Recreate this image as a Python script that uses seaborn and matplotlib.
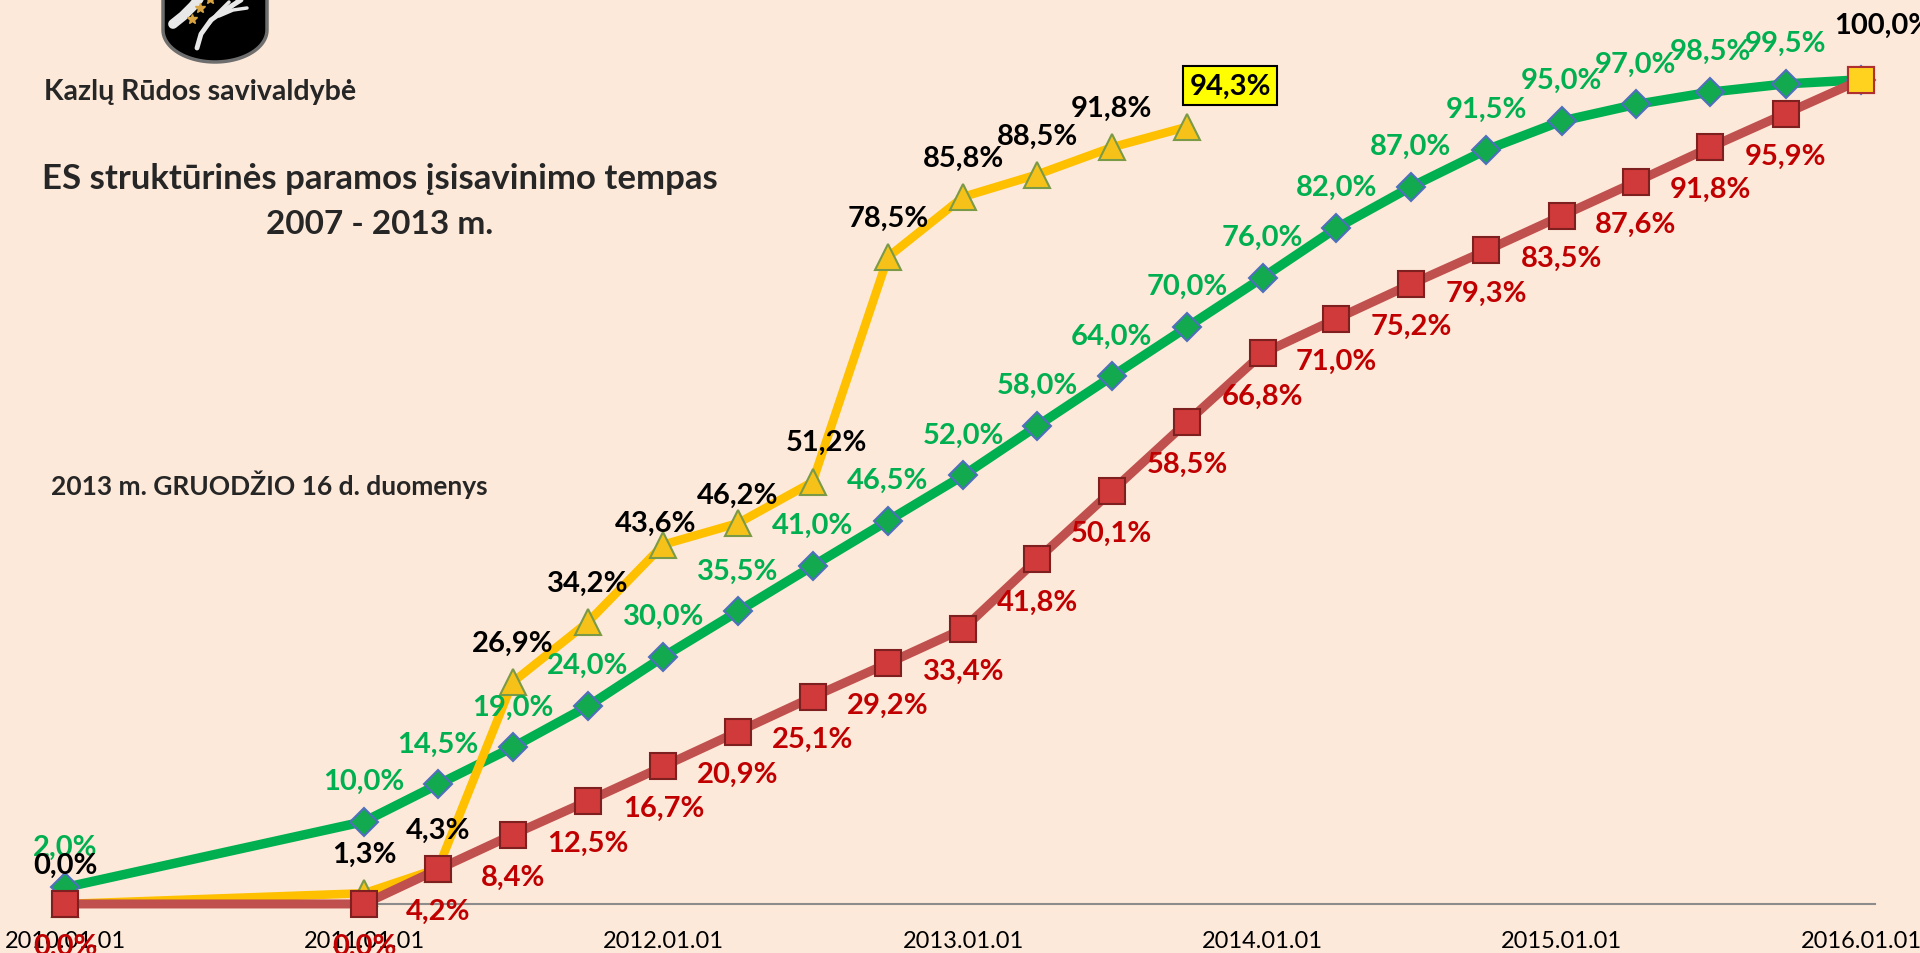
import pandas as pd
import numpy as np
import matplotlib
matplotlib.use("Agg")
import matplotlib.pyplot as plt
import matplotlib.dates as mdates
from matplotlib.patches import Polygon
import seaborn as sns

# --- data ---
dates_plan = ["2010.01.01", "2011.01.01", "2011.04.01", "2011.07.01", "2011.10.01",
              "2012.01.01", "2012.04.01", "2012.07.01", "2012.10.01",
              "2013.01.01", "2013.04.01", "2013.07.01", "2013.10.01",
              "2014.01.01", "2014.04.01", "2014.07.01", "2014.10.01",
              "2015.01.01", "2015.04.01", "2015.07.01", "2015.10.01", "2016.01.01"]
green_vals = [2.0, 10.0, 14.5, 19.0, 24.0, 30.0, 35.5, 41.0, 46.5, 52.0, 58.0,
              64.0, 70.0, 76.0, 82.0, 87.0, 91.5, 95.0, 97.0, 98.5, 99.5, 100.0]
red_vals = [0.0, 0.0, 4.2, 8.4, 12.5, 16.7, 20.9, 25.1, 29.2, 33.4, 41.8,
            50.1, 58.5, 66.8, 71.0, 75.2, 79.3, 83.5, 87.6, 91.8, 95.9, 100.0]
dates_actual = dates_plan[:13]
yellow_vals = [0.0, 1.3, 4.3, 26.9, 34.2, 43.6, 46.2, 51.2, 78.5, 85.8, 88.5, 91.8, 94.3]

BG = "#FDE9D9"
C_GREEN = "#00B050"
C_RED = "#C0504D"
C_YELLOW = "#FFC000"
T_GREEN = "#00B050"
T_RED = "#C00000"

sns.set_theme(style="white")
plt.rcParams['font.family'] = ['Lato', 'DejaVu Sans']

df_plan = pd.DataFrame({"date": pd.to_datetime(dates_plan, format="%Y.%m.%d"),
                        "green": green_vals, "red": red_vals})
df_act = pd.DataFrame({"date": pd.to_datetime(dates_actual, format="%Y.%m.%d"),
                       "yellow": yellow_vals})

fig = plt.figure(figsize=(19.2, 9.54), dpi=100, facecolor=BG)
ax = fig.add_axes([0, 0, 1, 1])
ax.set_facecolor(BG)

sns.lineplot(data=df_plan, x="date", y="green", ax=ax, color=C_GREEN, linewidth=6.8,
             marker="D", markersize=14, markerfacecolor="#13A94F",
             markeredgecolor="#4F6FBD", markeredgewidth=1.5, zorder=2)
sns.lineplot(data=df_act, x="date", y="yellow", ax=ax, color=C_YELLOW, linewidth=6.2,
             marker="^", markersize=19, markerfacecolor="#F6C21A",
             markeredgecolor="#7A9A48", markeredgewidth=1.5, zorder=3)
sns.lineplot(data=df_plan, x="date", y="red", ax=ax, color=C_RED, linewidth=6.5,
             marker="s", markersize=19, markerfacecolor="#D03A3A",
             markeredgecolor="#7F2020", markeredgewidth=1.5, zorder=4)
# final point highlighted in yellow
last = df_plan.iloc[-1]
ax.plot([last["date"]], [last["red"]], marker="s", markersize=19, color="none",
        markerfacecolor="#FFD21F", markeredgecolor="#B03030", markeredgewidth=1.5, zorder=5)

def fmt(v):
    return f"{v:.1f}".replace(".", ",") + "%"

LAB_FS = 21
lab_kw = dict(textcoords="offset pixels", ha="center", va="center", fontsize=LAB_FS,
              fontweight="bold", annotation_clip=False, zorder=10)

for d, v in zip(df_plan["date"][:-1], df_plan["green"][:-1]):
    ax.annotate(fmt(v), (d, v), xytext=(0, 41), color=T_GREEN, **lab_kw)
for d, v in zip(df_plan["date"][:-1], df_plan["red"][:-1]):
    ax.annotate(fmt(v), (d, v), xytext=(0, -42), color=T_RED, **lab_kw)

# a few yellow labels were nudged by hand in the original
nudge = {5: (-8, 22), 6: (0, 28), 7: (14, 40)}
for i, (d, v) in enumerate(zip(df_act["date"][:-1], df_act["yellow"][:-1])):
    ax.annotate(fmt(v), (d, v), xytext=nudge.get(i, (0, 39)), color="black", **lab_kw)

# highlighted latest actual value
d_last, v_last = df_act["date"].iloc[-1], df_act["yellow"].iloc[-1]
ax.annotate(fmt(v_last), (d_last, v_last), xytext=(43, 41), color="black",
            bbox=dict(boxstyle="square,pad=0.22", fc="#FFFF00", ec="black", lw=1.5),
            **lab_kw)
ax.annotate(fmt(last["red"]), (last["date"], last["red"]), xytext=(-27, 55),
            textcoords="offset pixels", ha="left", va="center", fontsize=LAB_FS,
            fontweight="bold", color="black", annotation_clip=False, zorder=10)

# axes
start = pd.Timestamp("2010-01-01")
end = pd.Timestamp("2016-01-01")
ax.set_xlim(start - pd.Timedelta(days=79.3), end + pd.Timedelta(days=72))
ax.set_ylim(-5.95, 109.8)
ax.xaxis.set_major_locator(mdates.YearLocator())
ax.xaxis.set_major_formatter(mdates.DateFormatter("%Y.%m.%d"))
ax.tick_params(axis="x", length=0, pad=19, labelsize=17, labelcolor="black")
ax.set_yticks([])
ax.set_xlabel("")
ax.set_ylabel("")
for s in ["top", "right", "left"]:
    ax.spines[s].set_visible(False)
ax.spines["bottom"].set_position(("data", 0))
ax.spines["bottom"].set_bounds(mdates.date2num(start),
                               mdates.date2num(end + pd.Timedelta(days=17)))
ax.spines["bottom"].set_color("#8C8C8C")
ax.spines["bottom"].set_linewidth(1.5)
ax.spines["bottom"].set_zorder(1)

# texts
fig.text(200 / 1920, 1 - 92 / 954, "Kazlų Rūdos savivaldybė", ha="center", va="center",
         fontsize=20.5, fontweight="bold")
fig.text(380 / 1920, 1 - 179 / 954, "ES struktūrinės paramos įsisavinimo tempas",
         ha="center", va="center", fontsize=25, fontweight="bold")
fig.text(380 / 1920, 1 - 224 / 954, "2007 - 2013 m.", ha="center", va="center",
         fontsize=24, fontweight="bold")
fig.text(51 / 1920, 1 - 485 / 954, "2013 m. GRUODŽIO 16 d. duomenys", ha="left",
         va="center", fontsize=19, fontweight="bold")

# coat of arms (top part cut off like in the reference)
lax = fig.add_axes([160 / 1920, 1 - 66 / 954, 110 / 1920, 66 / 954])
lax.set_xlim(-3, 107)
lax.set_ylim(-3, 63)
lax.axis("off")
t = np.linspace(np.pi, 2 * np.pi, 50)
xs = np.concatenate([[0], 52 + 52 * np.cos(t), [104]])
ys = np.concatenate([[70], 32 + 32 * np.sin(t), [70]])
lax.add_patch(Polygon(np.column_stack([xs, ys]), closed=True, fc="black", ec="#6E6E6E", lw=2.5))
# antler
lax.plot([10, 20, 30, 40], [38, 46, 56, 68], color="#E8E8E8", lw=7, solid_capstyle="round")
lax.plot([34, 38, 48, 62, 78], [14, 28, 42, 52, 62], color="#E8E8E8", lw=3.5,
         solid_capstyle="round")
lax.plot([44, 54, 66], [36, 48, 60], color="#E8E8E8", lw=2.5)
lax.plot([62, 72, 80], [50, 58, 68], color="#E8E8E8", lw=2.5)
lax.plot([56, 70, 84], [46, 52, 54], color="#E8E8E8", lw=2.5)
lax.plot([29, 37, 47], [43, 54, 63], marker="*", ls="none", color="#D9A441", ms=7)

fig.savefig("out.png", dpi=100, facecolor=BG)
